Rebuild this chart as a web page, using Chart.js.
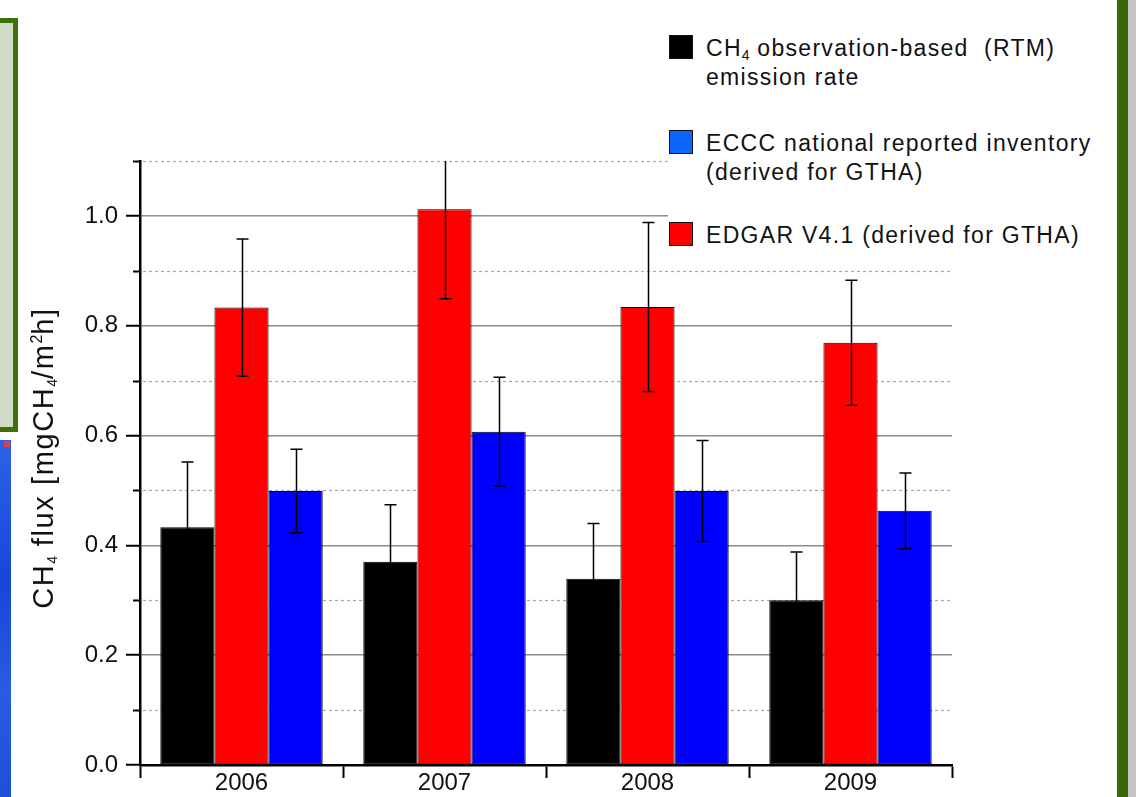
<!DOCTYPE html>
<html>
<head>
<meta charset="utf-8">
<title>CH4 flux</title>
<script src="https://cdn.jsdelivr.net/npm/chart.js@4.4.1/dist/chart.umd.min.js"></script>
<style>
  html, body { margin: 0; padding: 0; background: #fff; }
  body { width: 1136px; height: 797px; position: relative; overflow: hidden;
         font-family: "Liberation Sans", Arial, sans-serif; color: #1a1a1a; }
  #wrap { position: absolute; left: 0; top: 0; width: 1136px; height: 797px; }
  .deco { position: absolute; }
  #legend { position: absolute; left: 668px; top: 20px; width: 445px; height: 236px; background: #fff; }
  .item { position: absolute; left: 0; }
  .sw { position: absolute; left: 1px; width: 22px; height: 22px; border: 1px solid #111; }
  .txt { position: absolute; left: 38px; font-size: 23px; line-height: 29px; letter-spacing: 1.3px;
         white-space: nowrap; color: #111; }
  sub { font-size: 14px; vertical-align: -4px; line-height: 0; letter-spacing: 0; }
  sup { font-size: 16px; vertical-align: 11px; line-height: 0; letter-spacing: 0; }
  #ytitle { position: absolute; width: 400px; height: 40px; line-height: 40px; text-align: center;
            left: -157px; top: 438px; transform: rotate(-90deg); font-size: 29px; letter-spacing: 1.6px;
            white-space: nowrap; color: #111; }
</style>
</head>
<body>
<!-- bits of the slide around the figure -->
<div class="deco" style="left:-20px;top:18px;width:28px;height:404px;border:5px solid #3d6f0c;background:#cfdbc6;"></div>
<div class="deco" style="left:0;top:440px;width:11px;height:357px;background:linear-gradient(180deg,#2b63e8,#1846d8 40%,#2a5be0 70%,#1f4fd6);"></div>
<div class="deco" style="left:4px;top:441px;width:6px;height:6px;background:#e04040;"></div>
<div class="deco" style="left:1117px;top:0;width:11px;height:797px;background:#376a06;"></div>
<div class="deco" style="left:1128px;top:0;width:8px;height:797px;background:#c4c4c4;"></div>

<div id="wrap"><canvas id="myChart" width="1136" height="797"></canvas></div>
<div id="legend"></div>
<div id="ytitle">CH<sub>4</sub> flux [mgCH<sub>4</sub>/m<sup>2</sup>h]</div>

<script>
// data
const years = ['2006', '2007', '2008', '2009'];

const obsValues   = [0.433, 0.370, 0.339, 0.300];
const obsErrors   = [0.119, 0.104, 0.101, 0.088];
const edgarValues = [0.833, 1.012, 0.834, 0.769];
const edgarErrors = [0.125, 0.163, 0.154, 0.114];
const ecccValues  = [0.499, 0.607, 0.499, 0.463];
const ecccErrors  = [0.076, 0.099, 0.092, 0.069];

const yMajorTicks = [0, 0.2, 0.4, 0.6, 0.8, 1.0];
const yMinorTicks = [0.1, 0.3, 0.5, 0.7, 0.9, 1.1];

// legend order is not the bar order
const legendItems = [
  { html: 'CH<sub>4</sub> observation-based&nbsp; (RTM)<br>emission rate', color: '#000000', top: 14 },
  { html: 'ECCC national reported inventory<br>(derived for GTHA)', color: '#0a66ff', top: 109 },
  { html: 'EDGAR V4.1 (derived for GTHA)', color: '#ff0000', top: 201 }
];

const legend = document.getElementById('legend');
legendItems.forEach(it => {
  const d = document.createElement('div');
  d.className = 'item';
  d.style.top = it.top + 'px';
  d.innerHTML = '<div class="sw" style="top:1px;background:' + it.color + '"></div>' +
                '<div class="txt" style="top:0">' + it.html + '</div>';
  legend.appendChild(d);
});

// error bars + minor grid, drawn with the chart's own scales
const errorBars = {
  id: 'errorBars',
  beforeDatasetsDraw(chart) {
    const ctx = chart.ctx, y = chart.scales.y, area = chart.chartArea;
    ctx.save();
    yMinorTicks.forEach(v => {
      const py = Math.round(y.getPixelForValue(v)) + 0.5;
      ctx.strokeStyle = '#a8a8a8';
      ctx.lineWidth = 1.2;
      ctx.setLineDash([3, 3]);
      ctx.beginPath();
      ctx.moveTo(area.left + 3, py);
      ctx.lineTo(area.right, py);
      ctx.stroke();
      ctx.setLineDash([]);
      ctx.strokeStyle = '#000';
      ctx.lineWidth = 2;
      ctx.beginPath();
      ctx.moveTo(area.left - 7, py);
      ctx.lineTo(area.left, py);
      ctx.stroke();
    });
    ctx.restore();
  },
  afterDatasetsDraw(chart) {
    const ctx = chart.ctx, y = chart.scales.y, area = chart.chartArea;
    ctx.save();
    ctx.strokeStyle = '#000';
    ctx.lineWidth = 1.5;
    chart.data.datasets.forEach((ds, i) => {
      const meta = chart.getDatasetMeta(i);
      meta.data.forEach((bar, j) => {
        const v = ds.data[j], e = ds.errors[j];
        const x = Math.round(bar.x) + 0.5;
        let top = y.getPixelForValue(v + e);
        const bot = y.getPixelForValue(v - e);
        const clipped = top < area.top;
        if (clipped) top = area.top;
        ctx.beginPath();
        ctx.moveTo(x, top);
        ctx.lineTo(x, bot);
        if (!clipped) { ctx.moveTo(x - 6, top); ctx.lineTo(x + 6, top); }
        ctx.moveTo(x - 6, bot); ctx.lineTo(x + 6, bot);
        ctx.stroke();
      });
    });
    ctx.restore();
  }
};

const ctx = document.getElementById('myChart').getContext('2d');
const chart = new Chart(ctx, {
  type: 'bar',
  data: {
    labels: years,
    datasets: [
      { label: 'CH4 observation-based (RTM) emission rate', data: obsValues, errors: obsErrors,
        backgroundColor: '#000000' },
      { label: 'EDGAR V4.1 (derived for GTHA)', data: edgarValues, errors: edgarErrors,
        backgroundColor: '#ff0000' },
      { label: 'ECCC national reported inventory (derived for GTHA)', data: ecccValues, errors: ecccErrors,
        backgroundColor: '#0000ff' }
    ]
  },
  options: {
    responsive: false,
    animation: false,
    datasets: { bar: { borderColor: '#000', borderWidth: 1, borderSkipped: false,
                       barPercentage: 1.0, categoryPercentage: 0.8 } },
    layout: { padding: { left: 0, top: 161, right: 184, bottom: 0 } },
    plugins: { legend: { display: false }, tooltip: { enabled: false } },
    scales: {
      x: {
        afterFit(scale) { scale.height = 32; },
        grid: { display: true, drawOnChartArea: false, drawTicks: true, offset: true,
                tickLength: 13, tickWidth: 2, tickColor: '#000' },
        border: { display: true, color: '#000', width: 2.5 },
        ticks: { color: '#111', padding: -7, font: { family: 'Liberation Sans', size: 24, lineHeight: 1 } }
      },
      y: {
        min: 0, max: 1.1,
        afterFit(scale) { scale.width = 140; },
        afterBuildTicks(scale) { scale.ticks = yMajorTicks.map(v => ({ value: v })); },
        grid: { color: '#8c8c8c', lineWidth: 1.5, drawTicks: true,
                tickLength: 14, tickWidth: 2, tickColor: '#000' },
        border: { display: true, color: '#000', width: 2.5 },
        ticks: { color: '#111', padding: 8,
                 font: { family: 'Liberation Sans', size: 24 },
                 callback: v => Number(v).toFixed(1) }
      }
    }
  },
  plugins: [errorBars]
});
</script>
</body>
</html>
